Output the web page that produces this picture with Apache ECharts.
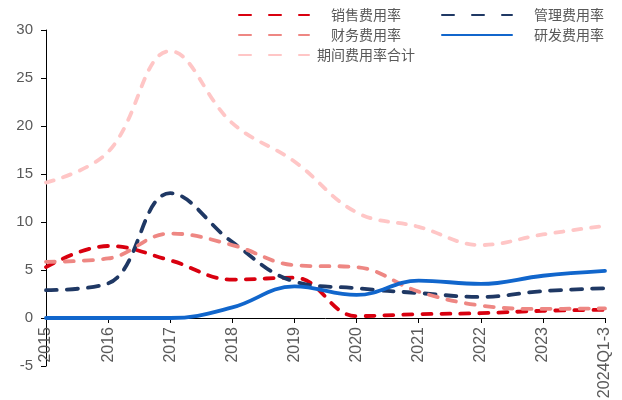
<!DOCTYPE html>
<html>
<head>
<meta charset="utf-8">
<script src="https://cdn.jsdelivr.net/npm/echarts@6/dist/echarts.min.js"></script>
<style>
  html, body { margin: 0; padding: 0; background: #fff; }
  #chart { width: 622px; height: 400px; }
</style>
</head>
<body>
<div id="chart"></div>
<script>
// 费用率（%）
var years = ['2015', '2016', '2017', '2018', '2019', '2020', '2021', '2022', '2023', '2024Q1-3'];
var salesRate = [5.3, 7.5, 6.0, 4.0, 4.2, 0.2, 0.4, 0.5, 0.75, 0.85];
var adminRate = [2.9, 3.6, 13.0, 7.9, 3.8, 3.1, 2.6, 2.2, 2.8, 3.1];
var financeRate = [5.85, 6.2, 8.8, 7.6, 5.5, 5.3, 2.75, 1.3, 0.95, 1.0];
var rdRate = [0, 0, 0, 1.1, 3.3, 2.4, 3.9, 3.55, 4.4, 4.9];
var totalRate = [14.1, 17.3, 27.8, 20.3, 16.3, 11.0, 9.5, 7.6, 8.7, 9.6];
var yTicks = { min: -5, max: 30, interval: 5 };

var names = ['销售费用率', '管理费用率', '财务费用率', '研发费用率', '期间费用率合计'];
var colors = ['#D9000F', '#1F3864', '#EE8783', '#1166CC', '#FFC6C6'];
var dataSets = [salesRate, adminRate, financeRate, rdRate, totalRate];
var dashes = [[9, 10], [11, 10], [9, 10], 'solid', [8, 10]];
var legendDashes = [[12, 18], [12, 18], [12, 18], 'solid', [12, 18]];

var gridBox = { left: 46, right: 17, top: 30, bottom: 34 };
var plotHeight = 400 - gridBox.top - gridBox.bottom;
// the category axis sits on the zero line of the value axis
var zeroOffset = -plotHeight * (0 - yTicks.min) / (yTicks.max - yTicks.min);

var chart = echarts.init(document.getElementById('chart'));

var legendText = {
  color: '#595959',
  fontFamily: 'Noto Sans CJK SC',
  fontSize: 14,
  rich: { c: { width: 104, align: 'center', color: '#595959', fontFamily: 'Noto Sans CJK SC', fontSize: 14 } }
};
function legendBox(left, idx) {
  return {
    left: left, top: 3, orient: 'vertical', itemGap: 6,
    itemWidth: 70, itemHeight: 14,
    data: idx.map(function (i) {
      return { name: names[i], lineStyle: { type: legendDashes[i], cap: 'round' } };
    }),
    itemStyle: { opacity: 0 },
    textStyle: legendText,
    formatter: function (n) { return '{c|' + n + '}'; },
    selectedMode: false
  };
}

chart.setOption({
  backgroundColor: '#fff',
  animation: false,
  legend: [
    legendBox(233, [0, 2, 4]),
    legendBox(436, [1, 3])
  ],
  grid: Object.assign({ containLabel: false, outerBoundsMode: 'none' }, gridBox),
  xAxis: {
    type: 'category',
    data: years,
    boundaryGap: false,
    position: 'bottom',
    offset: zeroOffset,
    axisLine: { onZero: false, lineStyle: { color: '#000', width: 1 } },
    axisTick: { show: true, alignWithLabel: true, length: 5, lineStyle: { color: '#000' } },
    axisLabel: {
      rotate: 90, margin: 9, color: '#595959', fontSize: 16,
      fontFamily: 'Liberation Sans', interval: 0
    }
  },
  yAxis: {
    type: 'value',
    min: yTicks.min, max: yTicks.max, interval: yTicks.interval,
    splitLine: { show: false },
    axisLine: { show: true, onZero: false, lineStyle: { color: '#000', width: 1 } },
    axisTick: { show: true, length: 5, lineStyle: { color: '#000' } },
    axisLabel: { color: '#595959', fontSize: 15, fontFamily: 'Liberation Sans', margin: 13 }
  },
  series: names.map(function (n, i) {
    return {
      name: n,
      type: 'line',
      data: dataSets[i],
      smooth: 0.4,
      symbol: 'none',
      z: i === 4 ? 1 : 2 + i,
      itemStyle: { color: colors[i] },
      lineStyle: { color: colors[i], width: 3.8, type: dashes[i], cap: 'round' }
    };
  })
});
</script>
</body>
</html>
